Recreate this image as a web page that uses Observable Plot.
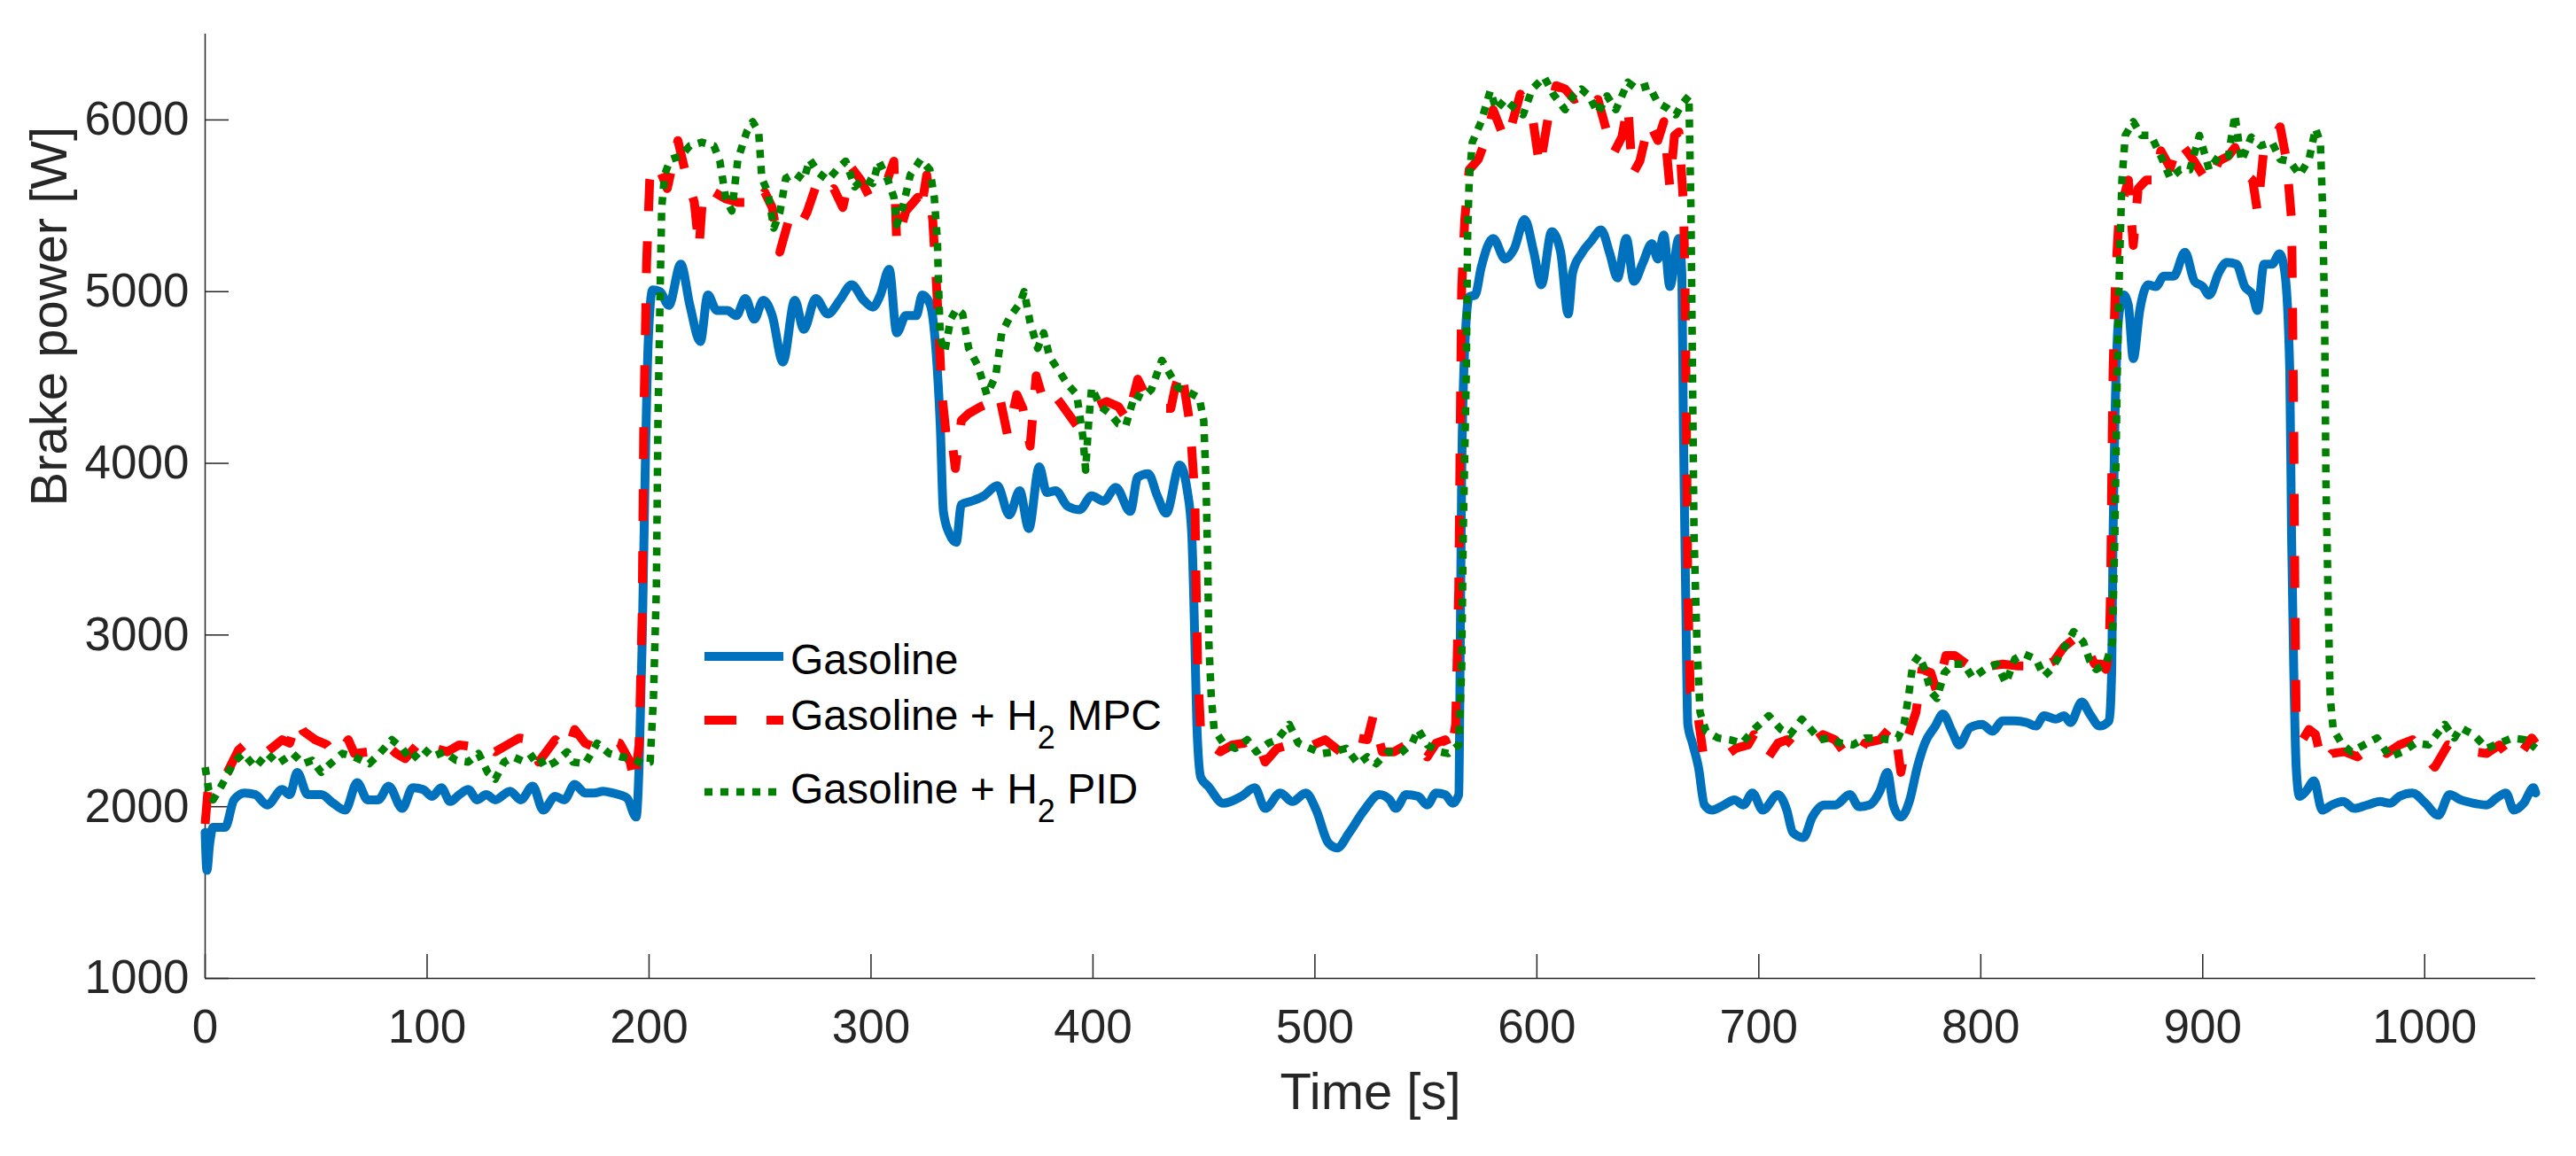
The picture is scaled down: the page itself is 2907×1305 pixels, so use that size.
<!DOCTYPE html>
<html>
<head>
<meta charset="utf-8">
<script src="https://cdn.jsdelivr.net/npm/d3@7"></script>
<script src="https://cdn.jsdelivr.net/npm/@observablehq/plot@0.6"></script>
<style>
html, body { margin: 0; padding: 0; background: #fff; }
#wrap { position: relative; width: 2907px; height: 1305px; }
</style>
</head>
<body>
<div id="wrap"></div>
<script>
// ---------------- data (time [s], brake power [W]) ----------------
const gasoline = [
[0,1850],[0.8,1630],[2,1780],[3.6,1880],[9,1880],[13,2040],[17.8,2080],[22.6,2070],[28,2010],[34.7,2100],
[38.1,2070],[41.5,2200],[46.2,2070],[52.3,2070],[57.7,2020],[63.1,1980],[68.5,2140],[73.2,2040],[78,2040],[82.7,2120],
[88.8,1990],[93.5,2110],[98.2,2100],[102.3,2060],[106.4,2110],[110.4,2030],[114.5,2070],[118.5,2100],[122.6,2040],[126.6,2070],
[130.7,2040],[137.4,2090],[142.2,2040],[147.6,2120],[152.3,1980],[157.7,2060],[161.8,2040],[166.5,2130],[171.2,2080],[175.3,2080],
[179.3,2090],[183.4,2080],[190.1,2050],[194.2,1940],[195.5,2230],[196.9,2960],[198.2,3910],[199.6,4700],[201.6,5010],[205,5000],
[208.9,4920],[214.3,5160],[218.4,4920],[223.1,4710],[226.5,4980],[230.5,4890],[235.3,4890],[239.3,4860],[243.4,4960],[247.4,4840],
[251.5,4950],[255.5,4860],[260.3,4590],[265.7,4950],[269.7,4780],[275.1,4960],[280.5,4870],[285.9,4950],[291.3,5040],[296.7,4950],
[300.8,4910],[304.2,4980],[308.2,5130],[311.6,4760],[315.7,4860],[320.4,4860],[323.1,4980],[326.5,4930],[329.2,4670],[331.2,4220],
[332.6,3720],[335.3,3590],[338.4,3540],[340.7,3760],[345.4,3780],[350.8,3810],[356.9,3870],[362.3,3700],[367,3840],[371.1,3620],
[375.8,3980],[379.2,3830],[383.2,3840],[388.6,3750],[394,3730],[399.4,3810],[404.8,3780],[410.3,3860],[416.8,3720],[420.2,3920],
[424.9,3940],[429,3810],[433,3710],[439.1,3990],[442.5,3840],[444.5,3590],[445.9,2960],[446.8,2480],[448.6,2170],[451.9,2120],
[458.7,2020],[466.8,2060],[472.9,2110],[477.6,1990],[484.4,2080],[489.8,2030],[495.9,2080],[500.6,1980],[506,1790],[510,1760],
[515.5,1850],[522.2,1980],[529,2070],[533.7,2040],[536.4,1990],[541.1,2070],[546.5,2060],[550.6,2010],[554.6,2080],[558.7,2070],
[562.1,2020],[564.8,2070],[565.5,2960],[566.1,3910],[567.5,4670],[569.5,4970],[572.2,4980],[574.9,5140],[580.3,5310],[585.7,5190],
[589.8,5250],[594.5,5420],[598.6,5230],[602,5040],[606.7,5350],[610.7,5230],[614.1,4870],[616.1,5110],[620,5220],[624.8,5300],
[628.9,5360],[632.9,5220],[636.3,5080],[640.3,5310],[643.7,5060],[647.8,5170],[651.8,5280],[654.5,5190],[657.2,5330],[659.9,5030],
[664,5310],[665.3,5110],[666,4220],[667,3270],[668,2480],[670.1,2370],[672.8,2230],[675.5,2010],[678.9,1980],[684.3,2010],
[689,2040],[693.1,2010],[697.1,2080],[701.8,1980],[708.6,2070],[712.6,1980],[715.3,1850],[720.1,1820],[724.1,1940],[729.5,2010],
[734.3,2010],[741,2070],[745.1,2000],[749.8,2010],[754.5,2090],[757.9,2200],[760.6,2010],[764,1940],[768,2040],[771.4,2230],
[774.8,2370],[779.5,2470],[782.9,2540],[787,2440],[790.3,2360],[795.1,2460],[800.5,2480],[805.2,2440],[809.9,2500],[815.3,2500],
[820.7,2490],[824.8,2470],[828.5,2530],[833.8,2510],[837.5,2530],[840.4,2490],[845.5,2610],[849.1,2540],[853.5,2470],[857.8,2500],
[859,2800],[859.6,3590],[860.4,4220],[862.2,4860],[864.4,4980],[866.5,4920],[868.7,4610],[871.6,4890],[875.3,5040],[878.9,5030],
[882.5,5090],[886.9,5090],[892,5230],[896.3,5060],[900,5030],[902.9,4980],[907.2,5110],[910.9,5170],[915.2,5160],[918.9,5030],
[922.5,4980],[924.7,4890],[927.6,5160],[931.2,5160],[934.6,5220],[937,5110],[939.2,4540],[940,3590],[941,2800],[942.1,2230],
[943.6,2060],[946.5,2090],[950.1,2150],[953.8,1980],[958.1,2010],[963.2,2030],[968.3,1990],[974.1,2010],[979.9,2030],[984.3,2020],
[988.6,2060],[994.5,2080],[1000.3,2020],[1006.1,1950],[1011.2,2070],[1016.2,2040],[1022.1,2020],[1027.9,2010],[1032.3,2050],[1036.6,2080],
[1040.2,1980],[1044.6,2020],[1049,2110],[1050,2080]
];

const gasolineH2MPC = [
[0,1900],[1.5,2130],[6,2150],[10,2200],[15,2330],[18.5,2370],[22.6,2320],[28,2320],[34.7,2390],[38.1,2370],
[41.5,2510],[44.2,2440],[49.6,2390],[55,2360],[59,2290],[64.5,2390],[67.2,2310],[73.9,2320],[80.7,2370],[86.1,2310],
[90.1,2280],[95.5,2360],[99.6,2400],[103.6,2340],[109.1,2320],[114.5,2360],[119.9,2350],[125.3,2370],[130.7,2320],[137.4,2370],
[141.5,2400],[146.9,2390],[150.3,2260],[157.7,2390],[163.1,2320],[166.5,2450],[171.2,2370],[176.6,2340],[182,2390],[186.8,2370],
[191.5,2260],[193.5,2130],[195.5,2360],[196.9,3120],[197.6,4220],[198.9,5170],[200.3,5650],[201.6,5740],[204,5740],[208.2,5600],
[213,5880],[217,5660],[220.4,5520],[222.5,5250],[224.4,5600],[229.2,5580],[234.6,5540],[240,5520],[245.4,5520],[248.1,5490],
[252.1,5580],[255.5,5490],[258.9,5230],[263,5420],[267,5360],[271.1,5460],[275.1,5610],[279.2,5540],[283.2,5600],[287.3,5490],
[291.3,5720],[295.4,5650],[299.4,5550],[303.5,5650],[307.6,5660],[310.3,5760],[311.6,5280],[315.7,5470],[321.1,5550],[322.4,5460],
[325.1,5680],[327.8,5420],[329.2,5110],[330.5,4790],[331.9,4410],[333.9,4160],[335.9,4190],[338,3970],[340.7,4250],[344,4290],
[349.4,4330],[354.9,4360],[357.6,4410],[361.6,4160],[365.7,4400],[368.4,4320],[371.7,4100],[374.4,4510],[377.8,4360],[381.9,4410],
[386.6,4330],[392.7,4220],[395.4,4250],[400.8,4330],[406.2,4360],[411.5,4330],[415.5,4250],[420.2,4490],[423.6,4400],[427.6,4360],
[431,4320],[435.1,4320],[437,4440],[439.8,4550],[443.8,4220],[445.9,3810],[446.5,3270],[447.2,2800],[448.6,2420],[451.9,2370],
[457.4,2320],[462.8,2360],[468.2,2370],[473.6,2400],[477.6,2260],[483,2340],[488.4,2360],[493.8,2370],[499.2,2360],[504.6,2390],
[511.4,2320],[515.5,2420],[519.5,2400],[523.6,2390],[526.3,2530],[530.3,2320],[535.7,2320],[541.1,2360],[546.5,2370],[550.6,2290],
[554.6,2370],[558.7,2390],[561.4,2310],[563.4,2480],[564.8,3270],[565.5,4220],[566.1,5010],[567.5,5420],[569.5,5710],[573.6,5770],
[577.6,5910],[580.3,6060],[585.7,5880],[588.4,5960],[592.5,6150],[597.9,6030],[601.3,5720],[605.3,6030],[608.7,6200],[612.7,6180],
[616.8,6120],[620.5,6140],[623.5,6070],[627.5,6120],[634.3,5800],[638.3,5900],[641,6090],[643,5680],[646.4,5760],[650.5,5990],
[654.5,5880],[657.2,5990],[659.9,5610],[662,5910],[664,5930],[666,5520],[666.7,5110],[667.4,4220],[668,3270],[669.1,2670],
[671.4,2640],[674.8,2320],[678.9,2290],[684.3,2290],[689.7,2340],[695.1,2360],[697.8,2420],[703.9,2280],[708.6,2370],[712.6,2390],
[716.7,2340],[722.1,2360],[728.9,2420],[734.3,2390],[738.3,2320],[743.7,2280],[747.8,2370],[754.5,2390],[759.9,2470],[762,2390],
[764,2200],[766.7,2390],[770.8,2550],[773.5,2800],[777.5,2780],[780.1,2670],[784.3,2880],[788.3,2880],[793.7,2830],[799.1,2780],
[804.5,2820],[809.9,2830],[816.7,2820],[822.1,2820],[826.2,2800],[830.2,2830],[833.1,2850],[837.5,2930],[843.3,2990],[847.6,2930],
[851.3,2830],[854.2,2830],[856.4,2800],[857.8,2890],[858.5,3270],[859,3910],[859.6,4540],[860.7,5080],[862.2,5420],[864.4,5550],
[866.5,5650],[868.7,5270],[870.9,5600],[874.5,5650],[878.9,5650],[881.1,5820],[885.4,5720],[889.1,5880],[892.7,5820],[895.6,5770],
[900,5680],[902.9,5630],[907.2,5760],[911.6,5790],[914.5,5840],[918.9,5690],[922.5,5650],[924.7,5460],[927.6,5840],[931.2,5880],
[934.9,5960],[937.8,5760],[940,5420],[940.4,5010],[941,4220],[941.5,3270],[942.1,2480],[945,2390],[947.9,2450],[950.8,2420],
[953.8,2250],[958.1,2310],[963.9,2320],[969.7,2290],[977,2360],[982.8,2310],[988.6,2360],[994.5,2390],[1000.3,2290],[1004.6,2230],
[1010.4,2360],[1016.2,2340],[1022.1,2320],[1027.9,2310],[1033.7,2360],[1039.5,2260],[1043.9,2320],[1048.2,2400],[1050,2370]
];

const gasolineH2PID = [
[0,2230],[1.6,2100],[3.6,2040],[7.7,2130],[13,2260],[17.2,2310],[22.6,2230],[28,2310],[32.7,2250],[39.5,2310],
[44.2,2250],[48.2,2270],[52.3,2200],[56.4,2250],[61.8,2310],[67.2,2290],[73.9,2250],[78.6,2310],[84.1,2390],[88.8,2340],
[92.8,2270],[98.2,2340],[102.3,2290],[107.7,2320],[113.1,2270],[118.5,2260],[123.2,2310],[127.3,2200],[130.7,2160],[134.7,2260],
[138.8,2290],[144.2,2260],[149.6,2310],[153,2230],[157.7,2260],[163.1,2320],[165.8,2260],[171.2,2250],[176.6,2370],[182,2310],
[187.4,2290],[192.8,2280],[196.9,2250],[200.5,2260],[202,2640],[203.3,3270],[204,4220],[205,5010],[205.7,5490],[207,5680],
[209.6,5770],[214.3,5790],[218.4,5850],[223.8,5870],[229.2,5850],[231.9,5760],[234.6,5540],[237.3,5470],[240,5770],[244,5930],
[246.7,5990],[249.4,5930],[250.8,5660],[253.5,5580],[256.2,5370],[258.9,5460],[261.6,5660],[265.7,5690],[269.7,5650],[272.4,5770],
[276.5,5690],[280.5,5650],[284.6,5710],[288.6,5760],[292.7,5610],[296.7,5660],[300.8,5630],[303.5,5760],[307.6,5650],[310.3,5550],
[311.6,5390],[314.3,5490],[317.7,5680],[322.4,5770],[326.5,5710],[328.5,5550],[329.9,5300],[330.5,5010],[331.2,4730],[333.2,4650],
[335.9,4840],[338.6,4900],[341.3,4870],[344,4670],[348.1,4570],[352.2,4400],[356.2,4510],[358.9,4760],[362.9,4860],[367,4930],
[369,5000],[371.7,4820],[375.1,4670],[377.8,4760],[380.5,4620],[384.6,4540],[388.6,4460],[392.7,4400],[395.4,4160],[396.7,3960],
[398.1,4250],[399.4,4440],[403.5,4330],[407.6,4290],[411.5,4230],[414.8,4220],[418.8,4400],[422.2,4380],[426.3,4430],[431,4600],
[435.1,4510],[438.4,4440],[443.8,4410],[447.9,4380],[449.9,4250],[450.9,3910],[451.7,3430],[452.2,2960],[453.3,2640],[454.6,2450],
[458.7,2370],[464.1,2340],[469.5,2390],[473.6,2320],[479,2370],[483,2390],[488.4,2480],[492.5,2370],[497.9,2340],[503.3,2310],
[508.7,2320],[514.1,2340],[519.5,2250],[523.6,2290],[527.6,2250],[533,2320],[538.4,2310],[543.8,2370],[546.5,2450],[550.6,2360],
[556,2320],[560.1,2310],[564.8,2360],[566.1,2800],[566.8,3590],[568.2,4540],[568.8,5330],[569.5,5650],[570.9,5870],[574.9,5990],
[579,6170],[581.7,6060],[585.7,6120],[589.8,6070],[593.8,6030],[597.9,6180],[603.3,6250],[607.4,6150],[612.7,6060],[616.8,6150],
[620,6180],[623.5,6140],[627.5,6040],[631.6,6140],[635.6,6060],[641,6220],[645.1,6180],[650.5,6200],[654.5,6100],[658.6,6070],
[662.6,6030],[665.3,6090],[668.5,6140],[669.4,5490],[670.1,4540],[670.8,3590],[672.1,2960],[673.5,2550],[676.2,2440],[681.6,2400],
[687,2390],[692.4,2370],[697.8,2450],[704.5,2530],[710,2450],[714,2420],[719.4,2510],[723.5,2450],[727.5,2390],[731.6,2400],
[736.9,2370],[742.4,2360],[747.8,2400],[753.2,2400],[758.6,2390],[762.7,2400],[765.4,2480],[767.4,2640],[769.4,2830],[772.1,2880],
[774.8,2800],[777.5,2670],[780.2,2630],[783.6,2780],[787.6,2830],[792.4,2830],[796.4,2750],[801.8,2800],[807.2,2830],[811.3,2720],
[815.3,2860],[819.4,2890],[824.8,2860],[828.5,2760],[831.7,2800],[836,2890],[841.8,3020],[846.2,2960],[849.1,2850],[852,2800],
[856.4,2830],[859.3,2960],[860.4,3590],[861.5,4540],[862.5,5170],[863.6,5650],[865.1,5910],[868.7,5990],[872.4,5910],[876.7,5910],
[881.1,5790],[885.4,5660],[889.8,5710],[894.2,5710],[898.5,5910],[902.9,5710],[907.2,5790],[911.6,5790],[914.5,6030],[917.4,5760],
[921.8,5900],[926.1,5850],[931.2,5870],[934.9,5770],[939.2,5760],[943.6,5680],[947.9,5770],[950.8,5950],[953,5870],[954,5490],
[954.9,4860],[955.5,3910],[956.4,3270],[957.4,2640],[958.8,2450],[962.5,2370],[966.8,2320],[972.6,2360],[978.5,2400],[984.3,2290],
[990.1,2320],[995.9,2370],[1001.7,2360],[1009,2480],[1013.4,2400],[1016.2,2460],[1022.1,2420],[1027.9,2340],[1033.7,2370],[1039.5,2400],
[1045.3,2390],[1050,2340]
];

const xTicks = [0, 100, 200, 300, 400, 500, 600, 700, 800, 900, 1000];
const yTicks = [1000, 2000, 3000, 4000, 5000, 6000];
const xLabel = "Time [s]";
const yLabel = "Brake power [W]";
const legendItems = [
  {base: "Gasoline", sub: "", tail: ""},
  {base: "Gasoline + H", sub: "2", tail: " MPC"},
  {base: "Gasoline + H", sub: "2", tail: " PID"}
];

// ---------------- layout / style ----------------
const W = 2907, H = 1305;
const mL = 231, mR = 46, mT = 38, mB = 201;
const axisColor = "#262626";
const font = '"Liberation Sans", Arial, Helvetica, sans-serif';
const colors = ["#0072BD", "#FF0000", "#008000"];
const widths = [10, 10, 8.5];
const dashes = [null, "36,34", "9,9"];
const tickLen = 27;

const chart = Plot.plot({
  width: W, height: H,
  marginLeft: mL, marginRight: mR, marginTop: mT, marginBottom: mB,
  style: {fontFamily: font, background: "white", color: axisColor, overflow: "visible"},
  x: {domain: [0, 1050], axis: null},
  y: {domain: [1000, 6500], axis: null},
  marks: [
    // inward ticks
    Plot.ruleX(xTicks, {x: d => d, insetTop: H - mT - mB - tickLen, stroke: axisColor, strokeWidth: 1.5}),
    Plot.ruleY(yTicks, {y: d => d, insetRight: W - mL - mR - tickLen, stroke: axisColor, strokeWidth: 1.5}),
    // spines
    Plot.ruleX([0], {x: d => d, stroke: axisColor, strokeWidth: 1.5}),
    Plot.ruleY([1000], {y: d => d, stroke: axisColor, strokeWidth: 1.5}),
    // tick labels
    Plot.axisX(xTicks, {anchor: "bottom", tickSize: 0, tickPadding: 35, fontSize: 53, tickFormat: d => String(d), fill: axisColor}),
    Plot.axisY(yTicks, {anchor: "left", tickSize: 0, tickPadding: 18, fontSize: 53, tickFormat: d => String(d), fill: axisColor}),
    // axis labels
    Plot.text([xLabel], {text: d => d, frameAnchor: "bottom", dy: 129, fontSize: 58, lineAnchor: "middle", fill: axisColor}),
    Plot.text([yLabel], {text: d => d, frameAnchor: "left", dx: -175, rotate: -90, fontSize: 58, lineAnchor: "middle", fill: axisColor}),
    // series
    Plot.line(gasoline, {x: d => d[0], y: d => d[1], stroke: colors[0], strokeWidth: widths[0], curve: "monotone-x", strokeLinejoin: "round"}),
    Plot.line(gasolineH2MPC, {x: d => d[0], y: d => d[1], stroke: colors[1], strokeWidth: widths[1], strokeDasharray: dashes[1], strokeLinecap: "butt", strokeLinejoin: "round"}),
    Plot.line(gasolineH2PID, {x: d => d[0], y: d => d[1], stroke: colors[2], strokeWidth: widths[2], strokeDasharray: dashes[2], strokeLinecap: "butt", strokeLinejoin: "round"})
  ]
});

const wrap = document.getElementById("wrap");
wrap.appendChild(chart);

// ---------------- legend overlay (inside the axes, no box) ----------------
const leg = d3.create("svg")
  .attr("width", W).attr("height", H)
  .style("position", "absolute").style("left", "0px").style("top", "0px")
  .style("font-family", font);

const lineY = [741, 813, 894];
const baseY = [761, 824, 907];
legendItems.forEach((it, i) => {
  leg.append("line")
    .attr("x1", 795).attr("x2", 884)
    .attr("y1", lineY[i]).attr("y2", lineY[i])
    .attr("stroke", colors[i]).attr("stroke-width", widths[i])
    .attr("stroke-dasharray", dashes[i])
    .attr("stroke-linecap", "butt");
  const t = leg.append("text")
    .attr("x", 892).attr("y", baseY[i])
    .attr("font-size", 48).attr("fill", "#000");
  t.append("tspan").text(it.base);
  if (it.sub) {
    t.append("tspan").attr("dy", 21).attr("font-size", 36).text(it.sub);
    t.append("tspan").attr("dy", -21).attr("font-size", 48).text(it.tail);
  }
});
wrap.appendChild(leg.node());
</script>
</body>
</html>
